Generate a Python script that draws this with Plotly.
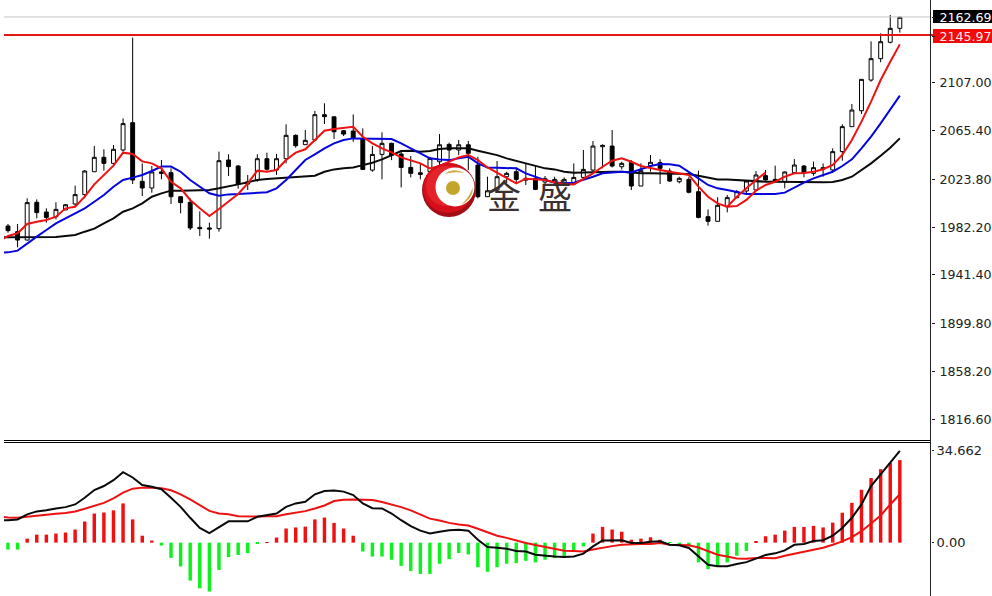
import plotly.graph_objects as go

W, H = 992, 596

opens = [1983.5,1978.6,1971.4,2003.9,1995.5,1991.5,1997.3,2002.4,2010.5,2030.2,
2042.6,2037.4,2048.9,2072.4,2021.9,2016.2,2030,2029.4,2008.7,2003.9,
1982.3,1981.8,1981.2,2040.3,2035.1,2021.4,2023.1,2041.4,2031.7,2041.4,
2061.5,2053.5,2057.5,2079.3,2077.5,2065.5,2065.2,2058.3,2031.6,2045.1,
2054.6,2045.4,2033.9,2029.3,2030.2,2038.8,2053.7,2048.9,2053.4,2035.9,
2008.7,2014.4,2025.9,2030.2,2023,2024.5,2021.3,2021.3,2020.2,2019.6,
2025.3,2031.6,2051.7,2052.3,2034.5,2038.2,2017.9,2035.4,2038,2030.8,
2021.6,2023.6,2013,1991.5,1987.5,2000.1,2007.9,2013.6,2014.5,2026.8,
2023.6,2021.6,2029.4,2035.1,2028.8,2033.7,2031.7,2047.5,2069,2082.7,
2109.1,2127.5,2141.6,2153.6]
closes = [1979.5,1971.4,2003.6,1995,1990.9,1997.8,2001.8,2010.5,2030.8,2042.6,
2037.4,2049.5,2071.6,2023.1,2016.2,2030,2028.8,2008.7,2003.6,1981.8,
1981.2,1980.9,2039.7,2034.6,2019.3,2019.6,2041.4,2032.3,2041.4,2061.5,
2052.6,2057.2,2079.3,2077.6,2064.6,2062.6,2058.9,2032.2,2045.1,2054.6,
2044.5,2033.9,2028.8,2027.9,2041.7,2053.4,2048.9,2053.4,2046,2008.7,
2013.8,2025.9,2028.8,2023.6,2024.5,2015,2024.2,2023.6,2023.6,2025.3,
2032.2,2052.3,2052.9,2035.1,2037.4,2017.9,2031.1,2038.3,2033.1,2022.2,
2024.5,2012.5,1990.9,1987.5,2001.3,2007.9,2013,2022.2,2027.4,2023.1,
2021.6,2030,2036,2029.4,2033.7,2032.5,2047.5,2069,2083.3,2109.7,
2127.5,2142.1,2153.6,2163.1]
highs = [1985.2,1985.2,2007.3,2006.4,1998.7,2003.9,2002.4,2018.2,2031.7,2052.3,
2049.5,2053.2,2076.1,2145.6,2037.4,2035.1,2040.3,2033.1,2008.7,2007.3,
1996.1,1986.4,2047.5,2045.2,2036,2027.4,2045.2,2046.6,2045.5,2071,
2062.4,2066.1,2082.5,2089.1,2077.5,2066.1,2079.5,2067.5,2052.3,2064.1,
2055.2,2048.9,2043.7,2037.4,2043.1,2062.6,2055.2,2057.5,2056.6,2043.1,
2025.9,2039.4,2030.2,2033.9,2037.4,2035.9,2026.5,2025.9,2025.3,2037.4,
2048.9,2056.6,2053.7,2066.1,2038.8,2040.2,2037.4,2044.6,2040.9,2033.1,
2025.9,2025.9,2031.1,1997.8,2008.2,2010.2,2014.5,2023.1,2030.8,2031.7,
2035.4,2030.5,2041.1,2036,2038.9,2037.4,2050.3,2071,2088.5,2109.7,
2142.4,2149.3,2165.1,2163.7]
lows = [1977.7,1965.1,1970.9,1990.1,1986.4,1989.2,1997.3,2000.1,2007.3,2030.2,
2031.1,2036,2047.5,2019.6,2009.3,2012.2,2023.7,2002.4,1994.4,1980,
1974.9,1972.6,1978.6,2026.5,2015.6,2014.5,2021.6,2031.1,2027.4,2037.4,
2050.9,2053.5,2056.1,2071.3,2058.3,2060.9,2056,2031.6,2030.2,2023.6,
2040.2,2016.7,2025.3,2023.6,2028.8,2033.9,2040.2,2044.5,2031.6,2007.2,
2008.7,2013,2020.2,2020.2,2018.7,2014.4,2018.4,2018.7,2017.9,2019.6,
2024.5,2030.2,2033.1,2033.9,2032.2,2014.4,2017.9,2030.2,2019.6,2021.6,
2020.2,2011.6,1990.1,1983.8,1987.5,1995.2,2007.3,2011.6,2013.9,2022.5,
2020.8,2015.9,2029.4,2025.4,2026.8,2025.9,2030.2,2039.7,2069,2079.9,
2107.7,2124.4,2140.7,2149.9]

# moving averages: first value belongs to the bar just left of the visible window
ma_fast = [1970,1974.9,1977.2,1985.2,1987.2,1988.6,1991.5,1998.7,2000.1,2008.7,2019.3,2027.4,2035.4,2046.6,2045.5,2039.1,2037.4,2033.1,2021.6,2015.9,2005.9,1998.7,1992.1,1998.1,2004.4,2011,2020.2,2031.1,2030.2,2031.7,2040.3,2046.6,2049.5,2057.5,2065.5,
2066.9,2068.1,2068.9,2060.3,2054.6,2050.3,2046.8,2042.5,2040.2,2037.4,2033.1,2035.1,2038.8,2042.5,2044.5,2040.2,2033.9,2029.3,2025,2020.2,2024.2,2023.6,2023,2021,2019.6,2019.3,2023.9,2028.8,2034.5,2039.7,2041.7,2038.8,2035.1,
2033.1,2031.7,2030.2,2028.8,2027.4,2017.3,2008.7,2003,2000.1,2000.7,2005.9,2013.9,2018.8,2021.6,2025.9,2028.8,2029.1,2030.2,2032.3,2036,2044.6,2057.5,2073.3,2090.5,2109.1,2124.9,2139.8]
ma_mid = [1960.5,1960.8,1962.3,1968.6,1974.3,1980,1985.8,1990.1,1994.4,1998.7,2004.4,2010.2,2017.3,2023.1,2025.1,2027.4,2030.8,2034.6,2034.6,2030.2,2023.1,2017.3,2011.6,2009.6,2010.7,2011,2011.6,2011.6,2012.5,2015.9,2023.1,2031.7,2040.3,2045.2,2050.3,
2054.6,2057.5,2058.9,2058.9,2058.9,2058.9,2058.3,2054.6,2050.3,2046,2041.7,2040.8,2040.2,2041.7,2043.1,2037.4,2033.9,2033.6,2033.4,2033.1,2028.8,2025.9,2023,2021,2020.2,2020.7,2023,2025.9,2028.8,2029.3,2030.2,2029.6,2032.2,
2035.1,2036.8,2036.6,2035.4,2030.2,2024.5,2018.8,2015.9,2014.5,2013,2011,2011,2011,2011,2012.2,2016.8,2020.8,2024.5,2027.4,2030.2,2035.1,2040.9,2050.3,2060.4,2071.8,2083.3,2095.7]
ma_slow = [1973.7,1973.7,1973.4,1973.4,1973.4,1973.4,1974,1974.9,1975.7,1978.6,1981.2,1985.8,1990.1,1995.8,1998.7,2003,2008.7,2011.6,2013.9,2013.9,2014.2,2014.2,2014.5,2015.9,2017.9,2019.3,2021.1,2023.1,2023.9,2024.5,2025.4,2025.9,2026.5,2026.8,2030.2,
2032.2,2033.1,2033.9,2035.9,2037.9,2040.8,2044.5,2048,2048.3,2047.4,2048,2049.7,2050.3,2050.3,2050.3,2048.3,2046.6,2044.5,2041.7,2039.4,2037.4,2035.1,2033.1,2032.2,2030.2,2029.3,2029.6,2030.2,2030.2,2030.2,2030.2,2029.3,2028.8,
2028.8,2028.8,2028.8,2028.8,2028.2,2026.8,2025.1,2023.6,2023.6,2023.1,2022.2,2021.6,2021.6,2021.6,2021.4,2021.4,2021.4,2021.1,2021.1,2021.4,2023.1,2025.9,2031.7,2037.4,2044,2050.9,2058.9]
extra_red_x = [75,76,77,78,79]
extra_red = [2000.1,2008.7,2015.9,2023.1,2029.4]

macd_hist = [-2.6,-2.6,1.5,3,3,3.4,3.8,4.9,7.9,10.9,11.3,12.1,14.7,8.7,2.6,.8,-1.1,-5.7,-8.9,-14.2,-17.1,-18.3,-10.2,-5.4,-4.6,-3.9,-.4,.1,1.9,5.3,5.7,6,8.7,9.4,
7.4,5.3,2.6,-3.3,-5.2,-5.2,-6.4,-8.7,-10.6,-11.7,-11.7,-7.9,-6.2,-3.9,-4.4,-9.2,-10.9,-9.2,-7.9,-7.7,-6.8,-7.4,-6.4,-5.8,-5.7,-2.9,-1.4,3.4,5.9,4.9,4.1,1.1,1.5,2,
1.1,-.1,-.8,-1.4,-7.4,-9.9,-8.9,-7.4,-4.9,-3.1,.4,2.4,3,4.5,5.9,5.9,6.3,5.7,7.5,11.2,14.9,19.8,24.2,27.5,29.8,30.9]
macd_line = [8.4,8.4,8.7,10.6,11.7,12.1,12.8,13.3,14.3,16.8,19.7,21.2,23.4,26.4,24.4,21.6,20.9,20,16.8,13.4,9.3,5.5,3.6,5.8,8,8,8,9.7,10.3,10.9,13.4,14.7,15.3,18.1,19.3,
19.5,19.1,17.8,14.7,12.9,12.8,10.9,8.4,6.2,4.5,3.4,4.1,4.6,4.8,4.5,1.1,-1.6,-1.9,-2.3,-3.1,-3.3,-4.5,-4.9,-5.2,-5.4,-5.2,-4.1,-1.4,.8,.9,.9,-.1,-.1,.3,
.5,-.8,-1,-2,-5.2,-8.3,-8.8,-8.8,-8,-7.3,-6,-4.6,-4,-2.9,-.8,-.5,.6,.9,2.6,5.5,9.3,14.3,21.2,25.6,30,34.4]
macd_signal = [9.9,9.4,9.3,9.7,10.2,10.4,10.8,11.1,11.7,12.7,13.7,14.9,16.6,18.7,20.2,20.6,20.6,20.4,19.6,18.1,16.2,13.9,11.9,10.9,10.6,9.9,9.8,9.8,9.9,9.9,10.6,11.2,11.8,12.8,13.9,
15.6,16.1,16.2,16.2,16,15.2,14.3,13.3,12.1,10.6,9,8.3,7.4,6.8,6.4,5.2,3.8,2.6,1.8,.8,-.1,-.9,-1.6,-2.4,-3,-3.1,-3.3,-2.6,-1.9,-1.3,-.8,-.6,-.5,-.5,
-.1,-.8,-.8,-1,-1.8,-3.1,-4.5,-5.2,-5.9,-6,-5.7,-5.7,-5.8,-4.9,-4.1,-3.4,-2.6,-1.9,-.8,.5,2.1,4.3,7.2,10.2,14.3,18.1]

price_ticks = [2163.0,2146.5,2107.00,2065.40,2023.80,1982.20,1941.40,1899.80,1858.20,1816.60]
price_labels = ['<span style="color:#ffffff">2162.69</span>','<span style="color:#ffe8e8">2145.97</span>',
                "2107.00","2065.40","2023.80","1982.20","1941.40","1899.80","1858.20","1816.60"]
macd_ticks = [34.662,0]
macd_labels = ["34.662","0.00"]
ask_line, bid_line = 2163.4, 2147.9

bars = list(range(len(opens)))
line_x = list(range(-1, len(opens)))

def px(x): return x / W
def py(y): return 1 - y / H

fig = go.Figure()
fig.add_trace(go.Candlestick(
    x=bars, open=opens, high=highs, low=lows, close=closes,
    increasing=dict(line=dict(color="#000000", width=1), fillcolor="#ffffff"),
    decreasing=dict(line=dict(color="#000000", width=1), fillcolor="#000000"),
    whiskerwidth=0, xaxis="x", yaxis="y"))
for vals, col in ((ma_slow, "#0a0a0a"), (ma_mid, "#0505dd"), (ma_fast, "#ee1111")):
    fig.add_trace(go.Scatter(x=line_x, y=vals, mode="lines", line=dict(color=col, width=2), yaxis="y"))
fig.add_trace(go.Scatter(x=extra_red_x, y=extra_red, mode="lines", line=dict(color="#ee1111", width=2), yaxis="y"))

fig.add_trace(go.Bar(x=bars, y=macd_hist, width=0.36, yaxis="y2",
                     marker=dict(color=["#f01010" if v >= 0 else "#10f020" for v in macd_hist], line=dict(width=0))))
fig.add_trace(go.Scatter(x=line_x, y=macd_signal, mode="lines", line=dict(color="#ee1111", width=2), yaxis="y2"))
fig.add_trace(go.Scatter(x=line_x, y=macd_line, mode="lines", line=dict(color="#0a0a0a", width=2), yaxis="y2"))

shapes = [
    dict(type="line", xref="paper", yref="y", x0=px(4), x1=px(931), y0=ask_line, y1=ask_line, line=dict(color="#c4c4c4", width=1)),
    dict(type="line", xref="paper", yref="y", x0=px(4), x1=px(933), y0=bid_line, y1=bid_line, line=dict(color="#e81515", width=2)),
    dict(type="line", xref="paper", yref="paper", x0=px(4), x1=px(931), y0=py(440.5), y1=py(440.5), line=dict(color="#000", width=1)),
    dict(type="line", xref="paper", yref="paper", x0=px(4), x1=px(931), y0=py(442.5), y1=py(442.5), line=dict(color="#000", width=1)),
    dict(type="line", xref="paper", yref="paper", x0=px(930.5), x1=px(930.5), y0=py(0), y1=py(596), line=dict(color="#222", width=1)),
    dict(type="rect", xref="paper", yref="paper", x0=px(933), x1=px(992), y0=py(10), y1=py(23), fillcolor="#000", line=dict(width=0), layer="below"),
    dict(type="rect", xref="paper", yref="paper", x0=px(933), x1=px(992), y0=py(29), y1=py(43), fillcolor="#f00a0a", line=dict(width=0), layer="below"),
]

def circle(cx, cy, r, col):
    return dict(type="circle", xref="paper", yref="paper", x0=px(cx-r), x1=px(cx+r), y0=py(cy+r), y1=py(cy-r),
                fillcolor=col, line=dict(width=0), layer="above")

def blob(points, col):
    (x0, y0), (cx1, cy1), (x1, y1), (cx2, cy2) = points
    def P(x, y): return f"{px(x)} {py(y)}"
    path = f"M {P(x0,y0)} Q {P(cx1,cy1)} {P(x1,y1)} Q {P(cx2,cy2)} {P(x0,y0)} Z"
    return dict(type="path", xref="paper", yref="paper", path=path, fillcolor=col, line=dict(width=0), layer="above")

shapes += [
    circle(449, 190, 27, "#a30d16"),
    circle(448, 188, 25, "#d50f1c"),
    circle(446, 186, 20, "#e5222a"),
    circle(455, 187, 19.5, "#ffffff"),
    circle(453, 188, 7, "#c4a52c"),
    blob([(445,174),(453,167),(465,173),(454,171)], "#c9ab4a"),
    blob([(473,187),(473,199),(461,205),(469,198)], "#c9ab4a"),
]

annos = [
    dict(x=px(503.5), y=py(194), xref="paper", yref="paper", xanchor="center", yanchor="middle", text="金", showarrow=False,
         font=dict(family="Noto Sans CJK SC", size=34, color="#3a3030")),
    dict(x=px(555), y=py(194), xref="paper", yref="paper", xanchor="center", yanchor="middle", text="盛", showarrow=False,
         font=dict(family="Noto Sans CJK SC", size=34, color="#3a3030")),
]

fig.update_layout(
    width=W, height=H, margin=dict(l=0, r=0, t=0, b=0, autoexpand=False), showlegend=False,
    paper_bgcolor="#ffffff", plot_bgcolor="rgba(0,0,0,0)", boxgap=0.42, barmode="overlay",
    shapes=shapes, annotations=annos, hovermode=False,
    xaxis=dict(domain=[px(4), px(931)], range=[-0.417, 96.25], visible=False, rangeslider=dict(visible=False), automargin=False),
    yaxis=dict(domain=[py(440), 1], range=[1799.3, 2178.0], side="right", showgrid=False, zeroline=False, automargin=False,
               tickmode="array", tickvals=price_ticks, ticktext=price_labels, ticks="outside", ticklen=3,
               tickcolor="#222", ticklabelstandoff=2, ticklabeloverflow="allow",
               tickfont=dict(family="DejaVu Sans", size=12.6, color="#222")),
    yaxis2=dict(domain=[0, py(442)], range=[-19.97, 37.68], side="right", anchor="x", showgrid=False, zeroline=False, automargin=False,
                tickmode="array", tickvals=macd_ticks, ticktext=macd_labels, ticks="outside", ticklen=2,
                tickcolor="#222", ticklabelstandoff=0, ticklabeloverflow="allow",
                tickfont=dict(family="DejaVu Sans", size=13, color="#222")),
)

fig.write_html("out.html", config=dict(displayModeBar=False),
               post_script="document.body.style.margin='0';")
